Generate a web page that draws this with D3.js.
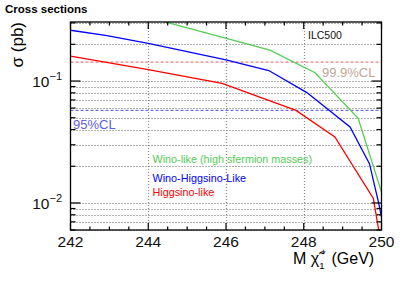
<!DOCTYPE html>
<html><head><meta charset="utf-8">
<script src="https://cdn.jsdelivr.net/npm/d3@7"></script>
<style>
body{margin:0;background:#fff;}
svg{font-family:"Liberation Sans",Arial,Helvetica,sans-serif;}
</style></head>
<body><svg id="c" width="415" height="281"></svg>
<script>
// ---- data ----
const wino = [[244,0.333],[247.13,0.179],[248.29,0.117],[249.4,0.0494],[250,0.0123]];
const winoHiggsino = [[242,0.261],[242.9,0.237],[244,0.204],[246,0.149],[247.1,0.122],[248.08,0.0804],[249.19,0.042],[249.69,0.021],[249.92,0.0102],[250,0.0077]];
const higgsino = [[242,0.160],[244,0.124],[245.9,0.0958],[247.8,0.0575],[248.8,0.0348],[249.79,0.0109],[249.92,0.0062],[250,0.0042]];
const cl999 = 0.143;
const cl95 = 0.0575;
const xTicks = [242,244,246,248,250];
const yLabelTicks = [0.1,0.01];
const legendLabels = ["Wino-like (high sfermion masses)","Wino-Higgsino-Like","Higgsino-like"];

const svg = d3.select("#c");
const L=70.5,R=381.5,T=22,B=230;
const x = d3.scaleLinear().domain([242,250]).range([L,R]);
const y = d3.scaleLog().domain([0.006,0.305]).range([B,T]);

// title
svg.append("text").attr("x",5).attr("y",13).attr("font-size",11.5).attr("font-weight","bold").text("Cross sections");

// gridlines
const yGrid = [];
[0.001,0.01,0.1].forEach(d=>{for(let k=1;k<10;k++){const v=d*k; if(v>=0.00599&&v<=0.305) yGrid.push(v);}});
const g = svg.append("g");
g.selectAll(".hg").data(yGrid).enter().append("line")
 .attr("x1",L).attr("x2",R).attr("y1",d=>Math.round(y(d))+0.5).attr("y2",d=>Math.round(y(d))+0.5)
 .attr("stroke","#666").attr("stroke-dasharray","1,2").attr("stroke-width",1);
g.selectAll(".vg").data([244,246,248]).enter().append("line")
 .attr("y1",T).attr("y2",B).attr("x1",d=>Math.round(x(d))+0.5).attr("x2",d=>Math.round(x(d))+0.5)
 .attr("stroke","#888").attr("stroke-dasharray","1,2").attr("stroke-width",1.2);

// clip
svg.append("clipPath").attr("id","clip").append("rect").attr("x",L).attr("y",T).attr("width",R-L).attr("height",B-T);
const plot = svg.append("g").attr("clip-path","url(#clip)");

// CL lines
plot.append("line").attr("x1",L).attr("x2",R).attr("y1",y(cl999)).attr("y2",y(cl999))
 .attr("stroke","#e86060").attr("stroke-dasharray","3,2").attr("stroke-width",1);
plot.append("line").attr("x1",L).attr("x2",R).attr("y1",y(cl95)).attr("y2",y(cl95))
 .attr("stroke","#5050e8").attr("stroke-dasharray","3,2").attr("stroke-width",1);

const line = d3.line().x(d=>x(d[0])).y(d=>y(d[1]));
const series = [[wino,"#55cc55"],[winoHiggsino,"#0000ff"],[higgsino,"#ff0000"]];
series.forEach(([data,col])=>{
  plot.append("path").datum(data).attr("d",line).attr("fill","none").attr("stroke",col).attr("stroke-width",1.3);
});

// frame
svg.append("rect").attr("x",L).attr("y",T).attr("width",R-L).attr("height",B-T).attr("fill","none").attr("stroke","#000").attr("stroke-width",1.3);

// x ticks
const xMinor = d3.range(242,250.01,0.5);
xMinor.forEach(v=>{
  const major = Math.abs(v-Math.round(v))<1e-6 && Math.round(v)%2===0;
  const len = major?7:3.5;
  const px = x(v);
  svg.append("line").attr("x1",px).attr("x2",px).attr("y1",B).attr("y2",B-len).attr("stroke","#000").attr("stroke-width",1.2);
  svg.append("line").attr("x1",px).attr("x2",px).attr("y1",T).attr("y2",T+len).attr("stroke","#000").attr("stroke-width",1.2);
});
svg.selectAll(".xl").data(xTicks).enter().append("text")
 .attr("x",d=>x(d)).attr("y",247).attr("text-anchor","middle").attr("font-size",15.5).attr("fill","#111").text(d=>d);

// y ticks
yGrid.forEach(v=>{
  const major = Math.abs(Math.log10(v)-Math.round(Math.log10(v)))<1e-6;
  const len = major?10:5;
  const py = y(v);
  svg.append("line").attr("x1",L).attr("x2",L+len).attr("y1",py).attr("y2",py).attr("stroke","#000").attr("stroke-width",1.2);
  svg.append("line").attr("x1",R).attr("x2",R-len).attr("y1",py).attr("y2",py).attr("stroke","#000").attr("stroke-width",1.2);
});
yLabelTicks.forEach(v=>{
  const t = svg.append("text").attr("x",62).attr("y",y(v)+6).attr("text-anchor","end").attr("font-size",15.5).attr("fill","#111");
  t.append("tspan").text("10");
  t.append("tspan").attr("dy",-7).attr("font-size",11).text("\u2212"+Math.round(-Math.log10(v)));
});

// axis titles
svg.append("text").attr("transform",`translate(23,${T}) rotate(-90)`).attr("text-anchor","end").attr("font-size",17).text("\u03c3 (pb)");
const xt = svg.append("text").attr("x",293).attr("y",264).attr("font-size",16);
xt.append("tspan").text("M \u03c7\u0303");
xt.append("tspan").attr("font-size",9.5).attr("dy",5).text("1");
xt.append("tspan").attr("font-size",9.5).attr("dx",-4).attr("dy",-14).text("+");
xt.append("tspan").attr("dy",9).attr("dx",1).text(" (GeV)");

// annotations
svg.append("text").attr("x",308).attr("y",38.5).attr("font-size",10.5).attr("fill","#111").text("ILC500");
svg.append("text").attr("x",322).attr("y",76.5).attr("font-size",13).attr("fill","#c4a898").text("99.9%CL");
svg.append("text").attr("x",73).attr("y",128.5).attr("font-size",13).attr("fill","#6060e0").text("95%CL");

// legend
const legCols = ["#55cc55","#0000ff","#ff0000"];
const legY = [163,181.5,196];
legendLabels.forEach((s,i)=>{
  svg.append("text").attr("x",152.5).attr("y",legY[i]).attr("font-size",10.8).attr("fill",legCols[i]).text(s);
});
</script></body></html>
